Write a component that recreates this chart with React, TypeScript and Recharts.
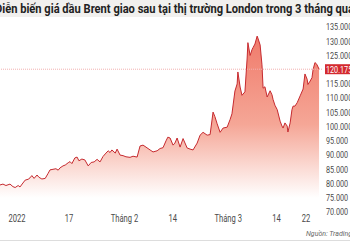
import React from 'react';
import { ComposedChart, Area, XAxis, YAxis, ReferenceLine } from 'recharts';

const days = [
  -1.6, -0.8, 0.0, 1.1, 1.9, 2.5, 3.3, 3.8, 4.6, 5.2, 6.0, 6.5, 7.0, 7.6, 8.4, 8.9, 9.7, 10.6, 11.4, 11.9,
  12.7, 13.5, 14.1, 14.6, 15.4, 16.0, 16.8, 17.3, 17.8, 18.6, 19.2, 19.7, 20.5, 21.3, 22.2, 23.0, 23.8, 24.6,
  25.4, 26.2, 27.0, 27.6, 28.1, 28.6, 29.5, 30.0, 30.8, 31.6, 32.4, 33.5, 34.3, 35.4, 36.2, 37.0, 37.8, 38.9,
  39.7, 40.8, 41.6, 42.4, 43.2, 43.7, 44.3, 45.1, 45.6, 46.2, 47.0, 47.8, 48.9, 49.7, 50.5, 51.6, 52.4, 53.2,
  54.3, 55.1, 55.9, 56.4, 57.0, 57.8, 58.6, 59.7, 60.5, 61.0, 61.8, 62.4, 62.6, 63.2, 63.7, 64.5, 65.1, 65.3,
  65.9, 66.4, 66.7, 67.2, 67.8, 68.0, 68.6, 69.1, 69.4, 69.9, 70.5, 71.3, 71.8, 72.1, 72.6, 73.2, 74.0, 74.5,
  74.8, 75.3, 75.9, 76.1, 76.7, 77.2, 77.5, 78.0, 78.6, 79.4, 80.2, 80.7, 81.3, 81.5, 82.1, 82.6, 82.9, 83.4,
  83.9, 84.5,
];

const prices = [
  79.5, 79.8, 79.3, 79.8, 78.9, 78.6, 79.3, 78.8, 80.2, 81.2, 81.5, 82.0, 82.8, 81.8, 83.0, 82.2, 81.6, 81.8, 83.6, 84.8,
  85.0, 85.2, 84.7, 85.5, 86.2, 86.5, 87.3, 87.7, 87.0, 89.0, 89.3, 88.0, 88.6, 88.3, 86.2, 87.4, 87.6, 88.5,
  87.6, 89.5, 90.7, 91.5, 90.9, 91.8, 90.7, 92.1, 90.0, 89.8, 89.4, 89.2, 89.6, 89.3, 93.2, 93.5, 92.8, 91.8,
  91.1, 91.5, 92.3, 92.6, 95.0, 96.3, 96.0, 93.5, 94.2, 96.0, 92.8, 95.8, 92.5, 92.1, 91.8, 94.2, 97.0, 98.0,
  97.0, 97.2, 105.1, 103.5, 101.0, 98.0, 99.5, 99.8, 102.5, 104.5, 112.5, 115.0, 119.2, 113.9, 111.0, 112.2, 124.1, 129.5,
  125.0, 127.0, 127.8, 129.0, 131.8, 131.1, 128.7, 121.7, 113.5, 114.0, 110.4, 112.6, 111.2, 109.5, 107.5, 106.0, 101.9, 100.2,
  99.5, 101.3, 100.2, 98.1, 101.3, 106.0, 107.2, 107.2, 108.4, 110.8, 113.2, 118.5, 116.6, 114.8, 116.0, 117.2, 120.1, 122.5,
  121.9, 120.2,
];

const tickDays = [3, 17, 32, 45, 60, 73, 81];
const tickLabels = ['2022', '17', 'Tháng 2', '14', 'Tháng 3', '14', '22'];
const yTicks = [70, 75, 80, 85, 90, 95, 100, 105, 110, 115, 125, 130, 135];
const lastPrice = 120.17;
const lastPriceLabel = '120.175';
const title = 'Diễn biến giá dầu Brent giao sau tại thị trường London trong 3 tháng qua';
const source = 'Nguồn: TradingView';

const data = days.map((d, i) => ({ day: d, price: prices[i] }));

const FONT = 'Roboto, "Liberation Sans", sans-serif';

const XTick = (props: any) => {
  const { x, y, payload } = props;
  const i = tickDays.indexOf(payload.value);
  return (
    <text
      transform={`translate(${x},${y}) scale(0.76,1)`}
      textAnchor="middle"
      dy="0.71em"
      fontSize={10}
      fill="#4a4a4a"
      fontFamily={FONT}
    >
      {i >= 0 ? tickLabels[i] : ''}
    </text>
  );
};

const YTick = (props: any) => {
  const { x, y, payload } = props;
  return (
    <text
      transform={`translate(${x},${y}) scale(0.76,1)`}
      textAnchor="start"
      dy="0.35em"
      fontSize={9.5}
      fill="#4a4a4a"
      fontFamily={FONT}
    >
      {Number(payload.value).toFixed(3)}
    </text>
  );
};

const PriceLabel = (props: any) => {
  const vb = props.viewBox || {};
  const x = (vb.x || 0) + (vb.width || 0);
  const y = vb.y || 0;
  return (
    <g>
      <rect x={x + 3} y={y - 5} width={30} height={10} fill="#d42a2f" />
      <text
        transform={`translate(${x + 4},${y}) scale(0.76,1)`}
        textAnchor="start"
        dy="0.35em"
        fontSize={9.5}
        fill="#ffffff"
        fontFamily={FONT}
      >
        {lastPriceLabel}
      </text>
    </g>
  );
};

export default function App() {
  return (
    <div style={{ position: 'relative', width: 350, height: 250, overflow: 'hidden', background: '#fff' }}>
      <style>{`body{margin:0}`}</style>
      <ComposedChart
        width={350}
        height={250}
        data={data}
        margin={{ top: 27, right: 0, bottom: 0, left: 0 }}
      >
        <defs>
          <linearGradient id="fillGrad" x1="0" y1="0" x2="0" y2="1">
            <stop offset="0%" stopColor="#f07a6b" stopOpacity={1} />
            <stop offset="50%" stopColor="#f5a696" stopOpacity={1} />
            <stop offset="92%" stopColor="#ffffff" stopOpacity={1} />
          </linearGradient>
        </defs>
        <XAxis
          dataKey="day"
          type="number"
          domain={[-1.6, 85.3]}
          ticks={tickDays}
          interval={0}
          axisLine={false}
          tickLine={false}
          tickSize={0}
          tickMargin={3}
          height={38}
          tick={<XTick />}
        />
        <YAxis
          orientation="right"
          domain={[70, 135]}
          ticks={yTicks}
          interval={0}
          axisLine={false}
          tickLine={false}
          tickSize={0}
          tickMargin={4}
          width={28}
          tick={<YTick />}
        />
        <Area
          type="linear"
          dataKey="price"
          stroke="#c62a2f"
          strokeWidth={1}
          fill="url(#fillGrad)"
          fillOpacity={1}
          dot={false}
          activeDot={false}
          isAnimationActive={false}
        />
        <ReferenceLine
          y={lastPrice}
          stroke="#f2b0b0"
          strokeWidth={1}
          strokeDasharray="1 1"
          label={<PriceLabel />}
        />
      </ComposedChart>
      <svg width={350} height={18} style={{ position: 'absolute', left: 0, top: 0 }}>
        <rect x={0} y={0} width={350} height={17} fill="#f1f0ee" />
        <text
          x={-5}
          y={12.5}
          fontSize={12.5}
          fontWeight={700}
          fill="#222"
          fontFamily={FONT}
          textLength={359}
          lengthAdjust="spacingAndGlyphs"
        >
          {title}
        </text>
      </svg>
      <svg width={350} height={20} style={{ position: 'absolute', left: 0, top: 228 }}>
        <text
          x={306}
          y={8}
          fontSize={7}
          fontStyle="italic"
          fill="#666"
          fontFamily={FONT}
        >
          {source}
        </text>
        <line x1={0} y1={12.5} x2={350} y2={12.5} stroke="#dddddd" strokeWidth={1} />
      </svg>
    </div>
  );
}
